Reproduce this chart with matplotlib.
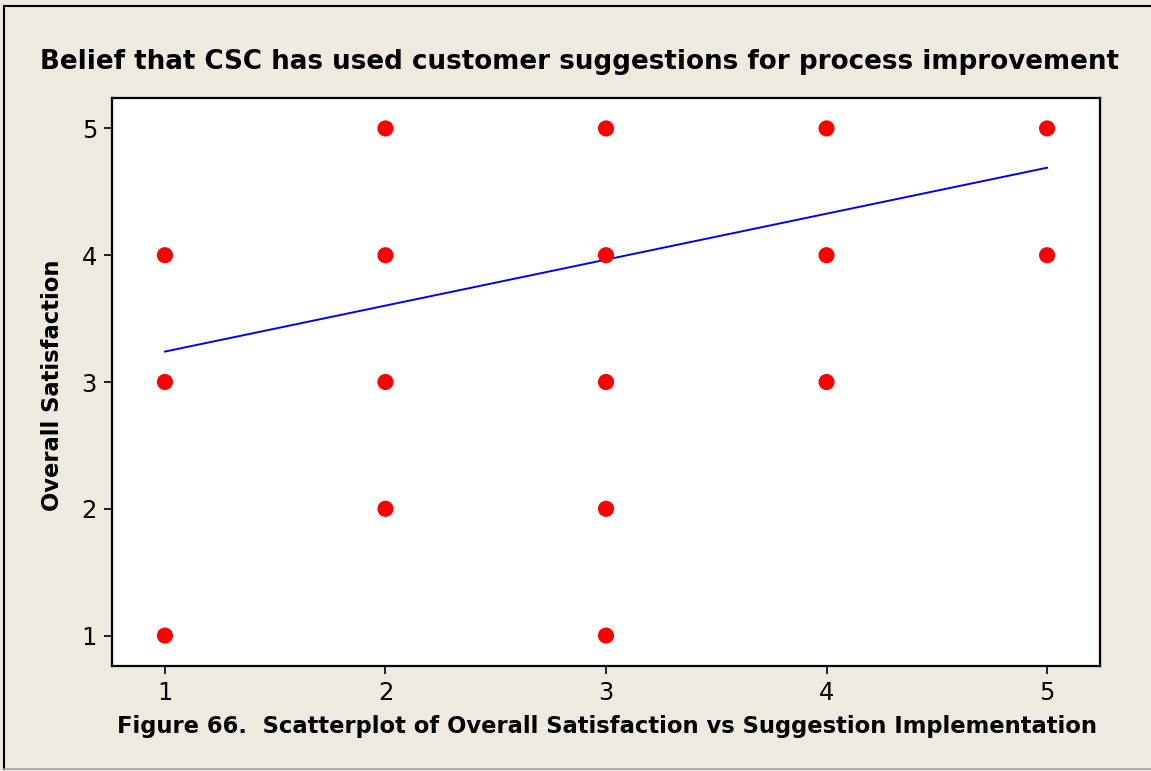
import matplotlib.pyplot as plt
from matplotlib.lines import Line2D

# Suggestion implementation (x) vs overall satisfaction (y)
suggestion = [1, 1, 1,
              2, 2, 2, 2,
              3, 3, 3, 3, 3,
              4, 4, 4,
              5, 5]
satisfaction = [4, 3, 1,
                5, 4, 3, 2,
                5, 4, 3, 2, 1,
                5, 4, 3,
                5, 4]

# fitted regression line endpoints
fit_x = [1, 5]
fit_y = [3.24, 4.69]

ticks = [1, 2, 3, 4, 5]

W, H = 1151, 771
bg = '#EEEAE0'

fig = plt.figure(figsize=(W / 100, H / 100), dpi=100, facecolor=bg)
ax = fig.add_axes([112 / W, 1 - 666 / H, (1100 - 112) / W, (666 - 98) / H])
ax.set_facecolor('white')

ax.scatter(suggestion, satisfaction, s=135, color='#FF0000', edgecolors='none', zorder=3)
ax.plot(fit_x, fit_y, color='#0000FF', linewidth=1.4, zorder=2)

ax.set_xlim(0.76, 5.24)
ax.set_ylim(0.76, 5.24)
ax.set_xticks(ticks)
ax.set_yticks(ticks)
ax.tick_params(direction='out', length=5.8, width=1.2, labelsize=17.5, pad=5)
for sp in ax.spines.values():
    sp.set_linewidth(1.6)

fig.text(579.5 / W, 1 - 62 / H, 'Belief that CSC has used customer suggestions for process improvement',
         ha='center', va='center', fontsize=18.8, fontweight='bold')
fig.text(607 / W, 1 - 727 / H, 'Figure 66.  Scatterplot of Overall Satisfaction vs Suggestion Implementation',
         ha='center', va='center', fontsize=16.3, fontweight='bold')
fig.text(53 / W, 1 - 385 / H, 'Overall Satisfaction', rotation=90,
         ha='center', va='center', fontsize=16.3, fontweight='bold')

# outer frame: black left/top, grey bottom (right side cut off)
fig.lines.append(Line2D([4 / W, 4 / W], [1 - 769 / H, 1 - 6 / H], transform=fig.transFigure,
                        color='black', linewidth=1.5))
fig.lines.append(Line2D([4 / W, 1], [1 - 6 / H, 1 - 6 / H], transform=fig.transFigure,
                        color='black', linewidth=1.5))
fig.lines.append(Line2D([4 / W, 1], [1 - 769 / H, 1 - 769 / H], transform=fig.transFigure,
                        color='#A0A0A0', linewidth=1.2))

fig.savefig('out.png', dpi=100, facecolor=bg)
